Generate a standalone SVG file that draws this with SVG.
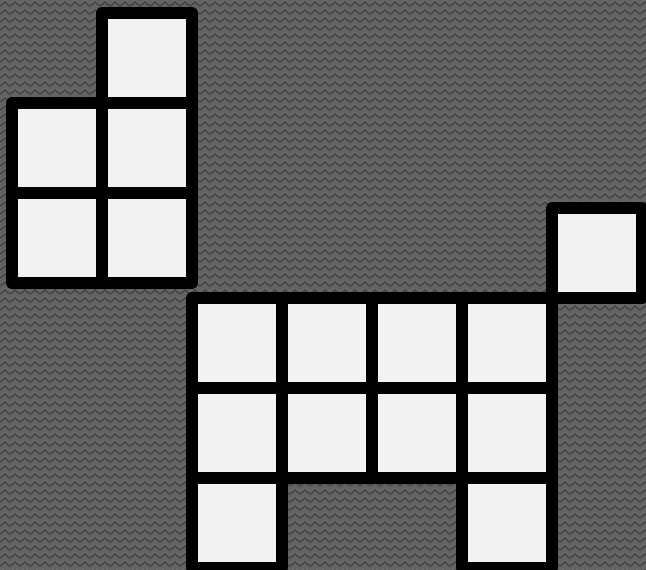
<svg xmlns="http://www.w3.org/2000/svg" width="646" height="570" viewBox="0 0 646 570">
<defs>
<pattern id="zz" width="10" height="8" patternUnits="userSpaceOnUse">
<rect width="10" height="8" fill="#626262"/>
<polyline points="0,6 5,2 10,6" fill="none" stroke="#474747" stroke-width="2"/>
<polyline points="0,4 5,0 10,4" fill="none" stroke="#6e6e6e" stroke-width="1"/>
</pattern>
<style>
.c{fill:#f2f2f2;stroke:#000;stroke-width:12;stroke-linejoin:round}
</style>
</defs>
<rect width="646" height="570" fill="url(#zz)"/>
<g id="shapeA">
<rect class="c" x="102" y="13" width="90" height="90"/>
<rect class="c" x="12" y="103" width="90" height="90"/>
<rect class="c" x="102" y="103" width="90" height="90"/>
<rect class="c" x="12" y="193" width="90" height="90"/>
<rect class="c" x="102" y="193" width="90" height="90"/>
</g>
<g id="shapeB">
<rect class="c" x="552" y="208" width="90" height="90"/>
<rect class="c" x="192" y="298" width="90" height="90"/>
<rect class="c" x="282" y="298" width="90" height="90"/>
<rect class="c" x="372" y="298" width="90" height="90"/>
<rect class="c" x="462" y="298" width="90" height="90"/>
<rect class="c" x="192" y="388" width="90" height="90"/>
<rect class="c" x="282" y="388" width="90" height="90"/>
<rect class="c" x="372" y="388" width="90" height="90"/>
<rect class="c" x="462" y="388" width="90" height="90"/>
<rect class="c" x="192" y="478" width="90" height="90"/>
<rect class="c" x="462" y="478" width="90" height="90"/>
</g>
<g id="connectors"/>
</svg>
